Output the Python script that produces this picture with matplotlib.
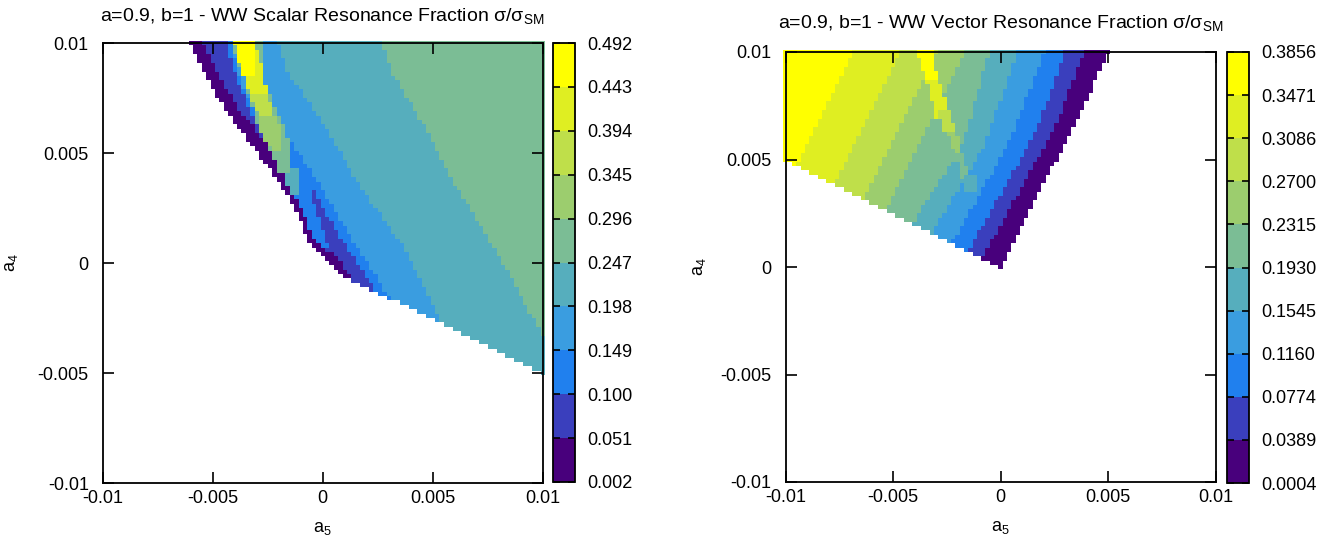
import numpy as np
import matplotlib.pyplot as plt
from matplotlib.colors import ListedColormap, BoundaryNorm
from matplotlib.path import Path

plt.rcParams['font.family'] = ['Liberation Sans', 'DejaVu Sans']
plt.rcParams['mathtext.fontset'] = 'custom'
plt.rcParams['mathtext.rm'] = 'Liberation Sans'
plt.rcParams['mathtext.it'] = 'Liberation Sans:italic'

# Ten colour bands shared by both maps (low -> high).
band_colors = ['#48007c', '#3a3fbd', '#2080ee', '#3a9de0', '#56aebd',
               '#7bbd95', '#9ccd6e', '#bfdf4a', '#dfee22', '#ffff00']

# Colour-bar levels.
scalar_levels = [0.002, 0.051, 0.100, 0.149, 0.198, 0.247, 0.296, 0.345, 0.394, 0.443, 0.492]
vector_levels = [0.0004, 0.0389, 0.0774, 0.1160, 0.1545, 0.1930, 0.2315, 0.2700, 0.3086, 0.3471, 0.3856]

# Scan grid in a5 and a4 (step 0.0002).
a5_grid = np.linspace(-0.01, 0.01, 101)
a4_grid = np.linspace(-0.01, 0.01, 101)

# ---- scalar map: outline of allowed region and band edges, in units of 1e-3 (a5, a4) ----
scalar_region_a5 = [-6.1, -5.35, -4.49, -3.44, -2.26, -1.26, -0.67, 0.10, 1.01, 2.15, 3.38, 5.33, 6.56, 8.65, 10.2, 10.2]
scalar_region_a4 = [10.2, 8.55, 7.05, 5.59, 4.09, 2.55, 1.05, 0.27, -0.68, -1.23, -1.77, -2.73, -3.36, -4.41, -5.1, 10.2]

# boundaries running top -> bottom; everything to the right gets the band
s_edge1_a5 = [-5.71, -4.76, -3.85, -2.71, -1.71, -1.03, -0.49, -0.03, 0.70, 1.10, 1.70, 2.60]
s_edge1_a4 = [10.59, 8.55, 7.05, 5.59, 4.00, 2.55, 1.27, 0.73, 0.27, -0.41, -1.23, -2.59]
s_edge2_a5 = [-4.58, -3.94, -3.35, -2.49, -1.94, -0.21, -0.21, 0.10, 1.10, 2.06, 3.06]
s_edge2_a4 = [10.59, 8.55, 7.05, 5.59, 4.77, 3.23, 3.00, 2.27, 0.73, -0.77, -2.36]
s_edge3_a5 = [-4.30, -3.85, -3.21, -1.94, -1.49, -0.90, -0.30, 0.60, 1.56, 2.51, 3.42]
s_edge3_a4 = [10.59, 8.55, 7.05, 6.14, 5.59, 4.68, 3.77, 2.27, 0.73, -0.77, -2.14]
s_edge4_a5 = [-2.26, -1.58, -0.49, 0.47, 1.33, 1.79, 2.60, 3.65, 4.42, 5.33, 6.00]
s_edge4_a4 = [10.59, 8.64, 7.09, 5.59, 4.09, 3.32, 2.27, 0.73, -0.77, -2.59, -4.00]
s_edge5_a5 = [2.51, 3.15, 4.10, 4.97, 5.88, 6.83, 7.74, 8.65, 9.42, 10.1, 10.8]
s_edge5_a4 = [10.59, 8.64, 7.09, 5.59, 3.77, 2.27, 0.73, -0.77, -2.27, -3.41, -4.40]

# blue wedge between the purple rim and the dark-blue stripe
s_wedge_a5 = [-2.40, -1.71, -1.03, -0.53, -0.44, -0.26, 0.06, 0.33, -0.03, -0.49, -1.03, -1.71]
s_wedge_a4 = [5.14, 4.77, 4.00, 3.32, 2.86, 2.27, 1.27, 0.73, 0.64, 1.27, 2.55, 4.00]

# resonance ridge patches (band index, a5, a4)
s_ridge = [
    (4, [-1.80, -1.21, -1.03, -1.53], [4.32, 4.32, 3.09, 3.09]),
    (5, [-4.12, -2.76, -2.76, -2.30, -1.85, -1.49, -1.40, -1.99, -2.40, -2.94, -3.30, -3.62, -4.00],
        [10.23, 10.23, 8.55, 7.41, 6.41, 5.36, 4.14, 4.14, 5.14, 6.14, 7.41, 8.50, 9.45]),
    (6, [-2.99, -2.12, -1.80, -1.85, -2.26, -2.76], [6.73, 6.73, 5.59, 5.05, 5.05, 5.82]),
    (7, [-3.30, -2.49, -2.17, -2.94], [7.64, 7.64, 6.64, 6.64]),
    (8, [-3.76, -2.85, -2.76, -2.49, -3.30, -3.62], [9.68, 9.68, 8.64, 7.64, 7.64, 8.50]),
    (9, [-4.08, -3.03, -3.03, -3.58, -3.90], [10.23, 10.23, 8.50, 8.50, 9.45]),
]

# ---- vector map ----
vector_region_a5 = [-10.2, 5.12, 3.70, 2.88, 0.01, -10.2]
vector_region_a4 = [10.2, 10.2, 7.07, 5.53, -0.03, 5.08]

# band edges (left -> right), read at a4 = 10.2, 7.07, 5.53 and -1.0
v_edge_a4 = [10.2, 7.07, 5.53, -1.0]
v_edges_a5 = [
    [-6.74, -8.30, -9.07, -12.34],
    [-4.51, -6.08, -6.84, -10.11],
    [-2.88, -4.45, -5.21, -8.48],
    [-1.58, -3.15, -3.91, -7.18],
    [-0.46, -1.37, -1.85, -6.06],
    [0.84, -0.25, -0.80, -4.76],
    [2.14, 0.90, 0.25, -3.46],
    [3.07, 1.95, 1.25, -2.53],
    [3.96, 2.75, 2.00, -1.64],
]
v_edge_band = [8, 7, 6, 5, 4, 3, 2, 1, 0]

v_ridge = [
    (8, [-3.51, -3.05, -2.58, -2.53, -3.00, -3.37], [9.16, 9.16, 7.77, 6.98, 6.98, 8.23]),
    (9, [-3.93, -3.14, -2.95, -3.50], [10.2, 10.2, 8.79, 8.79]),
    (7, [-3.00, -2.42, -2.07, -2.53], [7.30, 7.30, 6.23, 6.23]),
    (6, [-2.44, -2.07, -1.74, -2.07], [6.23, 6.23, 5.21, 5.21]),
    (5, [-2.07, -1.70, -1.42, -1.74], [5.21, 5.21, 3.95, 3.95]),
    (4, [-1.79, -1.19, -1.05, -1.60], [4.28, 4.28, 3.49, 3.49]),
]


def poly(xs, ys):
    return np.column_stack([xs, ys]) * 1e-3


def right_of(xs, ys):
    # region to the right of a top->bottom boundary
    p = list(zip(xs, ys)) + [(xs[-1], -20), (20, -20), (20, ys[0])]
    return np.array(p) * 1e-3


def paint(region, layers, levels):
    X, Y = np.meshgrid(a5_grid, a4_grid)
    pts = np.column_stack([X.ravel(), Y.ravel()])
    band = np.full(X.size, -1)
    for k, p in layers:
        band[Path(p).contains_points(pts)] = k
    band[~Path(region).contains_points(pts)] = -1
    lv = np.array(levels)
    mids = (lv[:-1] + lv[1:]) / 2
    z = np.where(band < 0, np.nan, mids[np.clip(band, 0, 9)])
    return z.reshape(X.shape)


scalar_layers = [(0, poly(scalar_region_a5, scalar_region_a4)),
                 (1, right_of(s_edge1_a5, s_edge1_a4)),
                 (2, right_of(s_edge2_a5, s_edge2_a4)),
                 (2, poly(s_wedge_a5, s_wedge_a4)),
                 (3, right_of(s_edge3_a5, s_edge3_a4)),
                 (4, right_of(s_edge4_a5, s_edge4_a4)),
                 (5, right_of(s_edge5_a5, s_edge5_a4))]
scalar_layers += [(k, poly(x, y)) for k, x, y in s_ridge]
z_scalar = paint(poly(scalar_region_a5, scalar_region_a4), scalar_layers, scalar_levels)

vector_layers = [(9, poly(vector_region_a5, vector_region_a4))]
for xs, k in zip(v_edges_a5, v_edge_band):
    vector_layers.append((k, right_of(xs, v_edge_a4)))
vector_layers += [(k, poly(x, y)) for k, x, y in v_ridge]
z_vector = paint(poly(vector_region_a5, vector_region_a4), vector_layers, vector_levels)

W, H = 1337, 552
fig = plt.figure(figsize=(W / 100, H / 100), dpi=100)
cmap = ListedColormap(band_colors)
edges = np.linspace(-0.0101, 0.0101, 102)
ticks = [-0.01, -0.005, 0, 0.005, 0.01]


def panel(ax_px, cb_px, z, levels, fmt, title, title_pad, ylab_x):
    ax = fig.add_axes([ax_px[0] / W, 1 - (ax_px[1] + ax_px[3]) / H, ax_px[2] / W, ax_px[3] / H])
    norm = BoundaryNorm(levels, cmap.N)
    mesh = ax.pcolormesh(edges, edges, z, cmap=cmap, norm=norm, clip_on=False)
    ax.set_xlim(-0.01, 0.01)
    ax.set_ylim(-0.01, 0.01)
    ax.set_xticks(ticks)
    ax.set_yticks(ticks)
    ax.set_xticklabels(['%g' % t for t in ticks])
    ax.set_yticklabels(['%g' % t for t in ticks])
    ax.tick_params(direction='in', top=True, right=True, length=8, width=1.2,
                   labelsize=13, pad=5)
    ax.tick_params(axis='y', pad=10)
    for s in ax.spines.values():
        s.set_linewidth(1.3)
    ax.set_xlabel('a$_5$', fontsize=13)
    ax.set_ylabel('a$_4$', fontsize=13)
    ax.xaxis.set_label_coords(0.5, -0.085)
    ax.yaxis.set_label_coords(ylab_x, 0.5)
    ax.set_title(title, fontsize=14, pad=title_pad)

    cax = fig.add_axes([cb_px[0] / W, 1 - (cb_px[1] + cb_px[3]) / H, cb_px[2] / W, cb_px[3] / H])
    cb = fig.colorbar(mesh, cax=cax, ticks=levels)
    cb.ax.set_yticklabels([fmt % v for v in levels])
    cb.ax.tick_params(direction='in', left=True, right=True, length=5, width=1.2,
                      labelsize=13, pad=8.5)
    cb.outline.set_linewidth(1.3)


panel((102.7, 43, 440, 440), (553, 43, 22, 439), z_scalar, scalar_levels, '%.3f',
      'a=0.9, b=1 - WW Scalar Resonance Fraction σ/σ$_{\\rm SM}$', 16, -0.188)
panel((785.5, 52, 430, 430), (1227, 52, 22, 431), z_vector, vector_levels, '%.4f',
      'a=0.9, b=1 - WW Vector Resonance Fraction σ/σ$_{\\rm SM}$', 17, -0.18)

fig.savefig('out.png', dpi=100)
